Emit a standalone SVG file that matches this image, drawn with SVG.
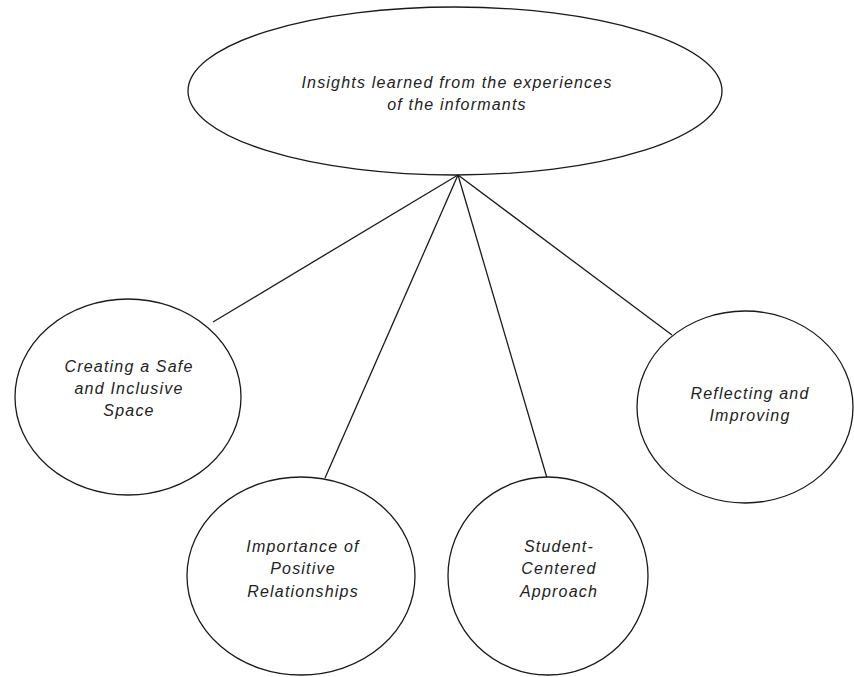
<svg xmlns="http://www.w3.org/2000/svg" width="854" height="677" viewBox="0 0 854 677">
<style>
.n{fill:#fff;stroke:#1a1a1a;stroke-width:1.3}
.c line{stroke:#1a1a1a;stroke-width:1.3}
text{font-family:"Liberation Sans",Arial,sans-serif;font-style:italic;font-size:16px;fill:#222;text-anchor:middle;letter-spacing:1.2px}
</style>
<rect width="854" height="677" fill="#fff"/>
<g class="c" id="connectors">
<line x1="458" y1="175" x2="213" y2="322"/>
<line x1="458" y1="175" x2="325" y2="478"/>
<line x1="458" y1="175" x2="547" y2="478"/>
<line x1="458" y1="175" x2="672" y2="335"/>
</g>
<g id="root">
<ellipse class="n" cx="455" cy="91" rx="267" ry="84"/>
<text x="457" y="88">Insights learned from the experiences</text>
<text x="457" y="110">of the informants</text>
</g>
<g id="safe">
<ellipse class="n" cx="128" cy="397" rx="113" ry="98"/>
<text x="129" y="372">Creating a Safe</text>
<text x="129" y="394">and Inclusive</text>
<text x="129" y="416">Space</text>
</g>
<g id="relationships">
<ellipse class="n" cx="301" cy="576" rx="114" ry="99"/>
<text x="303" y="552">Importance of</text>
<text x="303" y="574">Positive</text>
<text x="303" y="597">Relationships</text>
</g>
<g id="student">
<ellipse class="n" cx="548" cy="576" rx="100" ry="99"/>
<text x="559" y="552">Student-</text>
<text x="559" y="574">Centered</text>
<text x="559" y="597">Approach</text>
</g>
<g id="reflecting">
<ellipse class="n" cx="745" cy="407" rx="108" ry="96"/>
<text x="750" y="399">Reflecting and</text>
<text x="750" y="421">Improving</text>
</g>
</svg>
